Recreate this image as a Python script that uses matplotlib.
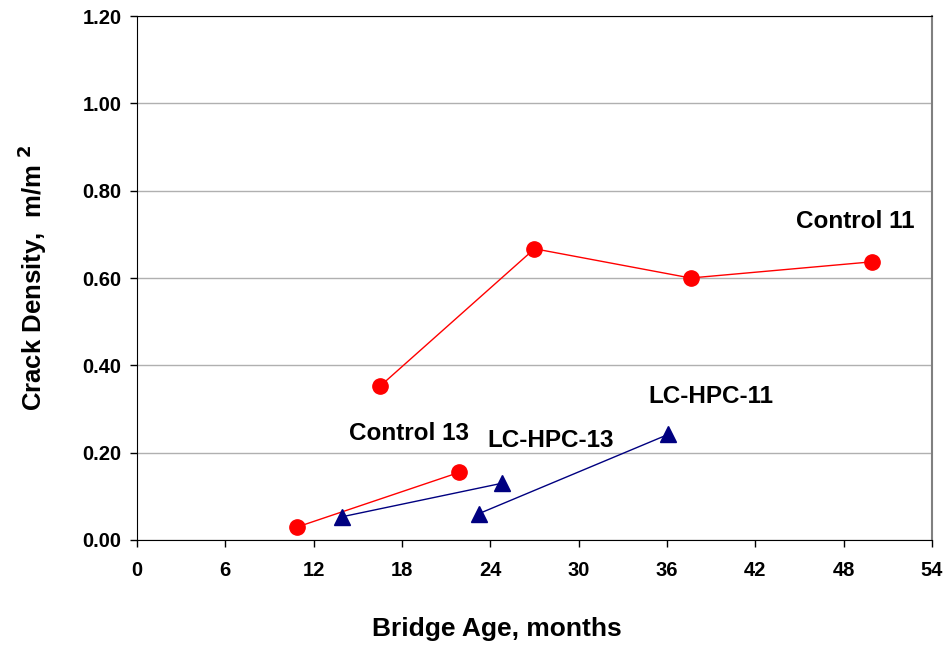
import matplotlib.pyplot as plt

plt.rcParams['font.family'] = ['Liberation Sans', 'DejaVu Sans']
plt.rcParams['font.weight'] = 'bold'

# bridge age (months) and crack density (m/m^2)
control11_age = [16.5, 27.0, 37.6, 49.9]
control11_density = [0.352, 0.667, 0.600, 0.637]

control13_age = [10.9, 21.9]
control13_density = [0.030, 0.155]

lchpc13_age = [13.9, 24.8]
lchpc13_density = [0.053, 0.130]

lchpc11_age = [23.2, 36.1]
lchpc11_density = [0.060, 0.242]

x_ticks = [0, 6, 12, 18, 24, 30, 36, 42, 48, 54]
y_ticks = [0.0, 0.2, 0.4, 0.6, 0.8, 1.0, 1.2]

fig = plt.figure(figsize=(9.43, 6.46), dpi=100)
ax = fig.add_axes([0.1453, 0.1641, 0.8430, 0.8111])

red = '#ff0000'
navy = '#000080'
ax.plot(control11_age, control11_density, '-o', color=red, lw=1, markersize=11, clip_on=False)
ax.plot(control13_age, control13_density, '-o', color=red, lw=1, markersize=11, clip_on=False)
ax.plot(lchpc13_age, lchpc13_density, '-^', color=navy, lw=1, markersize=11, clip_on=False)
ax.plot(lchpc11_age, lchpc11_density, '-^', color=navy, lw=1, markersize=11, clip_on=False)

ax.text(48.8, 0.73, 'Control 11', fontsize=17.5, fontweight='bold', ha='center', va='center')
ax.text(18.5, 0.245, 'Control 13', fontsize=17.5, fontweight='bold', ha='center', va='center')
ax.text(28.1, 0.229, 'LC-HPC-13', fontsize=17.5, fontweight='bold', ha='center', va='center')
ax.text(39.0, 0.328, 'LC-HPC-11', fontsize=17.5, fontweight='bold', ha='center', va='center')

ax.set_xlim(0, 54)
ax.set_ylim(0, 1.2)
ax.set_xticks(x_ticks)
ax.set_yticks(y_ticks)
ax.set_yticklabels([f'{v:.2f}' for v in y_ticks])
ax.tick_params(direction='out', length=5, width=1, labelsize=14.5, pad=6)
ax.tick_params(axis='x', pad=10)
for lab in ax.get_xticklabels() + ax.get_yticklabels():
    lab.set_fontweight('bold')

ax.grid(axis='y', color='#b0b0b0', lw=1)
ax.set_axisbelow(True)
ax.spines['right'].set_color('#808080')
ax.spines['right'].set_linewidth(1.5)

ax.set_xlabel('Bridge Age, months', fontsize=19, fontweight='bold', labelpad=27)
ax.xaxis.label.set_x(0.453)
ax.set_ylabel('Crack Density,  m/m $^{\\mathbf{2}}$', fontsize=18.5, fontweight='bold', labelpad=24)

fig.savefig('out.png', dpi=100)
